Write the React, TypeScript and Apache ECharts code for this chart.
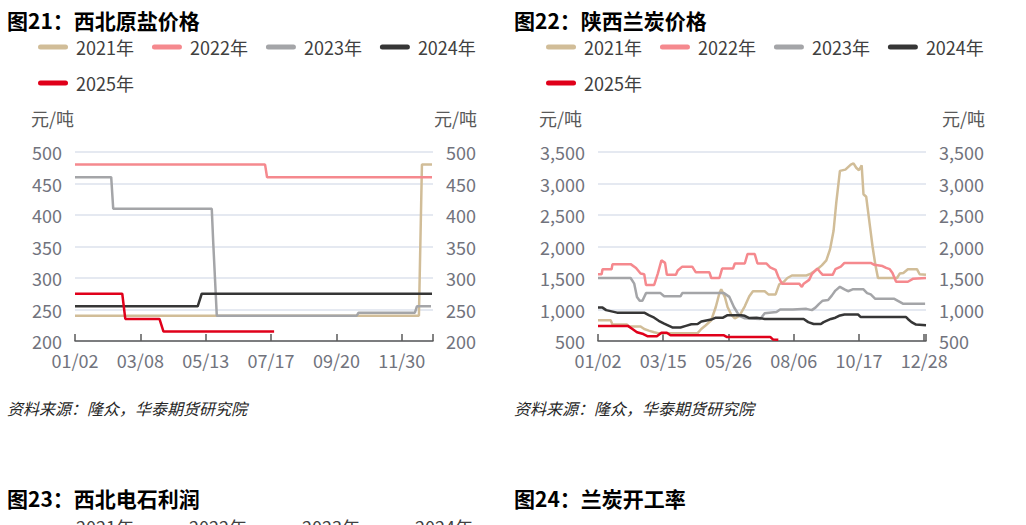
import React, { useEffect, useRef } from 'react';
import * as echarts from 'echarts';

const seriesNames = ['2021年', '2022年', '2023年', '2024年', '2025年'];
const seriesColors = ['#d1bd98', '#f5898e', '#a4a5a8', '#363636', '#e0001a'];

// 图21 西北原盐价格 (元/吨), x = position along the year
const saltTickLabels = ['01/02', '03/08', '05/13', '07/17', '09/20', '11/30'];
const salt2021 = [[0, 240], [342, 240], [345, 480], [355, 480]];
const salt2022 = [[0, 480], [189, 480], [191, 460], [355, 460]];
const salt2023 = [[0, 460], [36, 460], [38, 410], [136, 410], [137.5, 355], [141, 240], [280, 240], [282, 245], [338, 245], [340, 255], [354, 255]];
const salt2024 = [[0, 255], [122, 255], [126, 275], [355, 275]];
const salt2025 = [[0, 275], [47, 275], [50, 235], [84, 235], [88, 215], [198, 215]];

// 图22 陕西兰炭价格 (元/吨), x = day of year from 01/02
const coalTickLabels = ['01/02', '03/15', '05/26', '08/06', '10/17', '12/28'];
const coal2021 = [[0, 830], [14, 830], [16, 760], [32, 760], [34, 730], [47, 730], [51, 690], [56, 665], [62, 640], [66, 625], [110, 625], [114, 690], [119, 750], [125, 830], [130, 1040], [134, 1260], [136, 1320], [140, 1200], [143, 1040], [147, 920], [151, 860], [156, 900], [162, 1050], [167, 1210], [171, 1290], [184, 1290], [188, 1240], [196, 1240], [200, 1400], [205, 1440], [209, 1500], [214, 1540], [230, 1540], [235, 1570], [242, 1640], [247, 1700], [252, 1780], [256, 1950], [260, 2250], [263, 2700], [267, 3200], [273, 3220], [279, 3300], [282, 3320], [285, 3250], [288, 3210], [291, 3290], [293, 2830], [296, 2790], [299, 2450], [303, 2000], [306, 1720], [309, 1500], [330, 1500], [333, 1570], [337, 1580], [342, 1640], [352, 1640], [355, 1560], [362, 1550]];
const coal2022 = [[0, 1560], [4, 1560], [5, 1640], [15, 1640], [16, 1720], [36, 1720], [42, 1660], [47, 1570], [51, 1560], [53, 1390], [62, 1390], [66, 1570], [70, 1780], [74, 1740], [76, 1550], [86, 1550], [88, 1620], [93, 1680], [104, 1680], [108, 1590], [123, 1590], [125, 1500], [134, 1500], [137, 1650], [149, 1650], [151, 1730], [162, 1730], [165, 1880], [173, 1880], [176, 1730], [186, 1730], [190, 1670], [196, 1630], [199, 1520], [203, 1410], [222, 1410], [225, 1360], [227, 1410], [233, 1470], [236, 1560], [242, 1650], [246, 1580], [248, 1550], [259, 1550], [262, 1640], [268, 1680], [272, 1740], [301, 1740], [305, 1710], [314, 1690], [318, 1660], [322, 1640], [325, 1580], [329, 1440], [342, 1440], [348, 1490], [362, 1500]];
const coal2023 = [[0, 1500], [36, 1500], [40, 1410], [43, 1200], [46, 1140], [49, 1140], [53, 1260], [69, 1260], [73, 1210], [91, 1210], [93, 1260], [139, 1260], [145, 1200], [150, 1040], [156, 900], [162, 860], [179, 850], [184, 940], [197, 960], [201, 1000], [215, 1000], [230, 1010], [236, 990], [240, 1030], [244, 1090], [248, 1140], [254, 1150], [258, 1220], [262, 1300], [267, 1360], [272, 1320], [276, 1290], [281, 1320], [293, 1320], [297, 1260], [301, 1240], [306, 1170], [327, 1170], [332, 1130], [337, 1090], [361, 1090]];
const coal2024 = [[0, 1030], [5, 1030], [9, 990], [21, 950], [51, 950], [56, 910], [62, 870], [67, 820], [73, 775], [79, 735], [82, 715], [91, 715], [97, 740], [103, 765], [110, 770], [114, 810], [125, 840], [130, 870], [138, 870], [143, 910], [158, 910], [162, 900], [167, 865], [175, 870], [184, 850], [227, 850], [232, 800], [238, 770], [246, 770], [249, 800], [257, 850], [262, 870], [266, 900], [272, 920], [287, 920], [290, 880], [340, 880], [342, 850], [346, 800], [351, 760], [362, 750]];
const coal2025 = [[0, 740], [33, 740], [38, 690], [43, 640], [50, 610], [55, 575], [65, 575], [70, 630], [76, 630], [80, 590], [139, 590], [142, 565], [190, 565], [193, 525], [199, 520]];

const saltData = [salt2021, salt2022, salt2023, salt2024, salt2025];
const coalData = [coal2021, coal2022, coal2023, coal2024, coal2025];

const FONT = '"Noto Sans CJK SC", "Noto Sans", sans-serif';
const LABEL_COLOR = '#71737d';
const AXIS_COLOR = '#5a5a5a';
const GRID_COLOR = '#dde2ec';
const LEGEND_ICON = 'path://M2.5,0H27.5A2.5,2.5,0,0,1,27.5,5H2.5A2.5,2.5,0,0,1,2.5,0Z';

function xAxisFor(gridIndex: number, max: number, interval: number, labels: string[]) {
  return {
    type: 'value',
    gridIndex,
    min: 0,
    max,
    interval,
    axisLine: { show: true, lineStyle: { color: AXIS_COLOR, width: 1.5 } },
    axisTick: { show: true, inside: true, length: 7, lineStyle: { color: AXIS_COLOR, width: 1.5 } },
    axisLabel: {
      color: LABEL_COLOR,
      fontSize: 18,
      fontFamily: FONT,
      margin: 10,
      formatter: (v: number) => {
        const i = Math.round(v / interval);
        return Math.abs(v - i * interval) < 1e-6 && i < labels.length ? labels[i] : '';
      },
    },
    splitLine: { show: false },
  };
}

function yAxisFor(gridIndex: number, position: string, min: number, max: number, interval: number, split: boolean) {
  return {
    type: 'value',
    gridIndex,
    position,
    min,
    max,
    interval,
    axisLine: { show: false },
    axisTick: { show: false },
    axisLabel: { color: LABEL_COLOR, fontSize: 18, fontFamily: FONT, margin: 13 },
    splitLine: { show: split, lineStyle: { color: GRID_COLOR, width: 1.5 } },
  };
}

function legendAt(left: number) {
  return {
    left,
    top: 38,
    padding: 0,
    width: 450,
    orient: 'horizontal',
    itemWidth: 30,
    itemHeight: 5,
    itemGap: 18,
    icon: LEGEND_ICON,
    textStyle: { fontSize: 18, color: '#404040', fontFamily: FONT, lineHeight: 18, padding: [0, 0, 0, 3] },
    data: seriesNames,
  };
}

function txt(text: string, x: number, y: number, font: string, fill: string) {
  return {
    type: 'text',
    x,
    y,
    silent: true,
    style: { text, font, fill, verticalAlign: 'middle', textVerticalAlign: 'middle' },
  };
}

export default function App() {
  const ref = useRef<HTMLDivElement>(null);

  useEffect(() => {
    if (!ref.current) return;
    const chart = echarts.init(ref.current, undefined, { renderer: 'svg' });

    const series: any[] = [];
    saltData.forEach((d, i) => {
      series.push({
        name: seriesNames[i], type: 'line', xAxisIndex: 0, yAxisIndex: 0, data: d,
        showSymbol: false, symbol: 'none', color: seriesColors[i],
        lineStyle: { width: 2.5, color: seriesColors[i] },
      });
    });
    coalData.forEach((d, i) => {
      series.push({
        name: seriesNames[i], type: 'line', xAxisIndex: 1, yAxisIndex: 2, data: d,
        showSymbol: false, symbol: 'none', color: seriesColors[i],
        lineStyle: { width: 2.5, color: seriesColors[i] },
      });
    });

    const titleFont = `bold 21px ${FONT}`;
    const unitFont = `18px ${FONT}`;
    const srcFont = `italic 16px ${FONT}`;
    const legFont = `18px ${FONT}`;

    chart.setOption({
      animation: false,
      backgroundColor: '#ffffff',
      grid: [
        { left: 75, top: 152, width: 358, height: 189 },
        { left: 598, top: 152, width: 328, height: 189 },
      ],
      xAxis: [
        xAxisFor(0, 356, 65, saltTickLabels),
        xAxisFor(1, 362, 72, coalTickLabels),
      ],
      yAxis: [
        yAxisFor(0, 'left', 200, 500, 50, true),
        yAxisFor(0, 'right', 200, 500, 50, false),
        yAxisFor(1, 'left', 500, 3500, 500, true),
        yAxisFor(1, 'right', 500, 3500, 500, false),
      ],
      legend: [legendAt(38), legendAt(546)],
      graphic: [
        txt('图21：西北原盐价格', 7, 20, titleFont, '#000000'),
        txt('图22：陕西兰炭价格', 514, 20, titleFont, '#000000'),
        txt('元/吨', 31, 118, unitFont, '#595959'),
        txt('元/吨', 434, 118, unitFont, '#595959'),
        txt('元/吨', 539, 118, unitFont, '#595959'),
        txt('元/吨', 942, 118, unitFont, '#595959'),
        txt('资料来源：隆众，华泰期货研究院', 7, 408, srcFont, '#262626'),
        txt('资料来源：隆众，华泰期货研究院', 514, 408, srcFont, '#262626'),
        txt('图23：西北电石利润', 7, 498, titleFont, '#000000'),
        txt('图24：兰炭开工率', 514, 498, titleFont, '#000000'),
        txt('2021年', 76, 527, legFont, '#404040'),
        txt('2022年', 189, 527, legFont, '#404040'),
        txt('2023年', 302, 527, legFont, '#404040'),
        txt('2024年', 415, 527, legFont, '#404040'),
      ],
      series,
    });

    return () => chart.dispose();
  }, []);

  return (
    <div
      ref={ref}
      style={{ position: 'fixed', left: 0, top: 0, width: 1026, height: 525, background: '#fff' }}
    />
  );
}
